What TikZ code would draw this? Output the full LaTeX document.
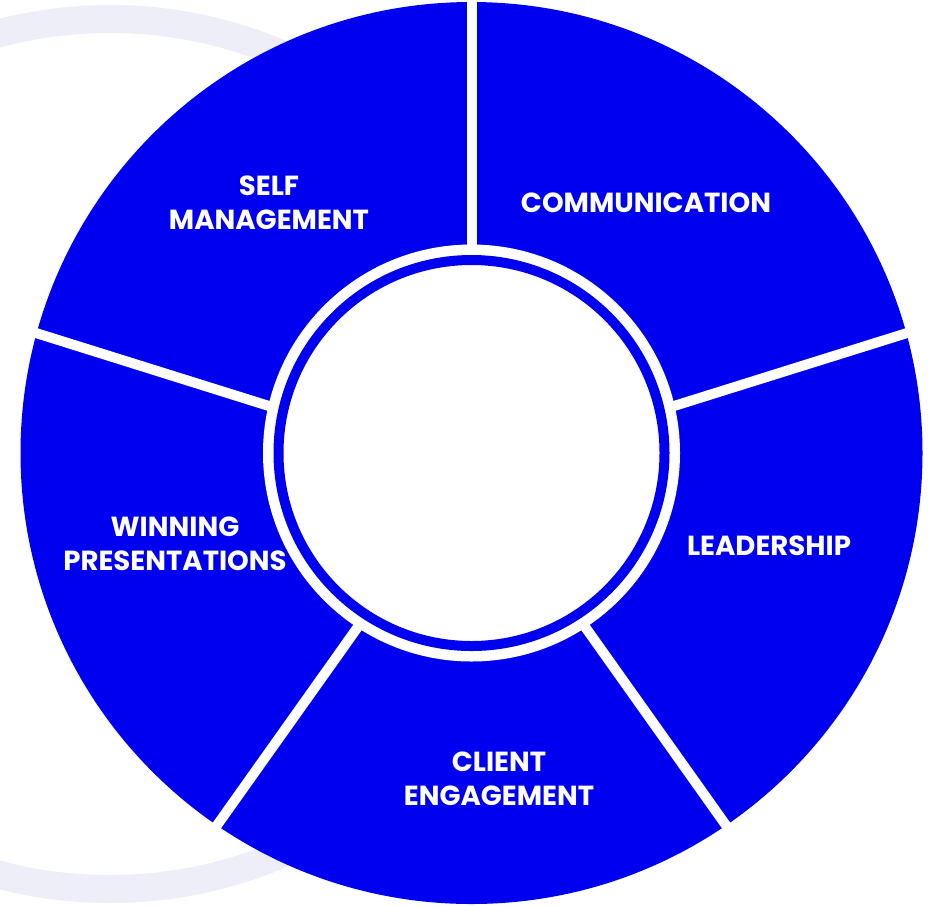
\documentclass[tikz,border=0pt]{standalone}
\usepackage{fontspec}
\setmainfont{Poppins}
\usetikzlibrary{calc}
\definecolor{segblue}{RGB}{0,0,240}
\definecolor{lav}{RGB}{238,238,248}
\tikzset{
  seglabel/.style={text=white, font=\bfseries\fontsize{27.6}{34}\selectfont, align=center, inner sep=0pt},
  gapline/.style={white, line width=10pt, shorten <=-6pt, shorten >=-12pt}
}
\begin{document}
\begin{tikzpicture}[x=1pt,y=-1pt]
\useasboundingbox[fill=white] (0,0) rectangle (928,906);
% faint background arc
\draw[lav, line width=28pt] (110,454) circle[radius=435pt];
\coordinate (c) at (471.5,453);
% blue ring
\fill[segblue] (c) circle[radius=451pt];
% separator end points
\coordinate (tI) at (471.7,250);   \coordinate (tO) at (471.7,2);
\coordinate (rI) at (674,406);     \coordinate (rO) at (905.5,333.5);
\coordinate (lI) at (269,406);     \coordinate (lO) at (37.5,333.5);
\coordinate (brI) at (588.5,631.7); \coordinate (brO) at (727,826.7);
\coordinate (blI) at (354.5,631.7); \coordinate (blO) at (216,826.7);
\foreach \p in {t,r,l,br,bl}{
  \draw[gapline] (\p I) -- (\p O);
}
% inner white disc and blue ring
\fill[white] (c) circle[radius=208.5pt];
\draw[segblue, line width=10pt] (c) circle[radius=193pt];
% labels
\node[seglabel] (self) at (269,203) {SELF\\MANAGEMENT};
\node[seglabel] (comm) at (646,203) {COMMUNICATION};
\node[seglabel] (lead) at (769,546) {LEADERSHIP};
\node[seglabel] (client) at (499,779) {CLIENT\\ENGAGEMENT};
\node[seglabel] (win) at (175,544) {WINNING\\PRESENTATIONS};
\end{tikzpicture}
\end{document}
